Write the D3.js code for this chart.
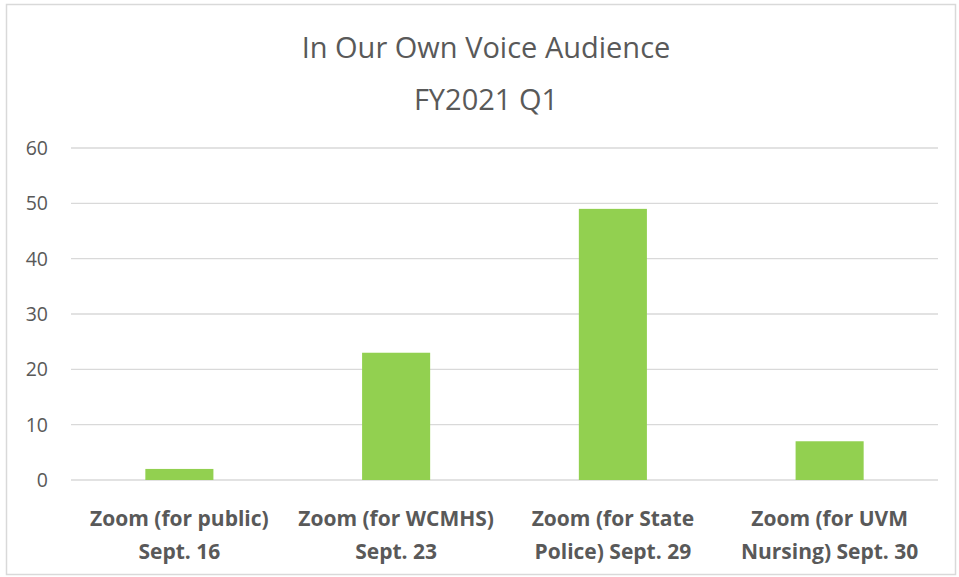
<!DOCTYPE html>
<html>
<head>
<meta charset="utf-8">
<script src="https://cdn.jsdelivr.net/npm/d3@7"></script>
<style>
  html, body { margin: 0; padding: 0; background: #fff; }
  svg { display: block; font-family: "Open Sans", "Noto Sans", sans-serif; }
</style>
</head>
<body>
<div id="chart"></div>
<script>
// Data
const titleLines = ['In Our Own Voice Audience', 'FY2021 Q1'];
const categories = [
    ['Zoom (for public)', 'Sept. 16'],
    ['Zoom (for WCMHS)', 'Sept. 23'],
    ['Zoom (for State', 'Police) Sept. 29'],
    ['Zoom (for UVM', 'Nursing) Sept. 30']
];
const audience = [2, 23, 49, 7];
const yTicks = [0, 10, 20, 30, 40, 50, 60];

const width = 959;
const height = 577;
const margin = { top: 148, right: 21, bottom: 97, left: 71 };

const svg = d3.select('#chart').append('svg')
    .attr('width', width)
    .attr('height', height);

// Chart border
svg.append('rect')
    .attr('x', 6.5)
    .attr('y', 4.5)
    .attr('width', width - 10)
    .attr('height', height - 7)
    .attr('fill', '#fff')
    .attr('stroke', '#d9d9d9')
    .attr('stroke-width', 1.5);

const x = d3.scaleBand()
    .domain(categories.map((d, i) => i))
    .range([margin.left, width - margin.right])
    .paddingInner(0.686)
    .paddingOuter(0.343);

const y = d3.scaleLinear()
    .domain([0, 60])
    .range([height - margin.bottom, margin.top]);

// Gridlines
svg.append('g')
    .selectAll('line')
    .data(yTicks)
    .join('line')
    .attr('x1', margin.left)
    .attr('x2', width - margin.right)
    .attr('y1', d => y(d))
    .attr('y2', d => y(d))
    .attr('stroke', '#d9d9d9')
    .attr('stroke-width', 1.3);

// Y labels
svg.append('g')
    .selectAll('text')
    .data(yTicks)
    .join('text')
    .attr('x', 48)
    .attr('y', d => y(d))
    .attr('dy', '0.36em')
    .attr('text-anchor', 'end')
    .style('font-size', '19.5px')
    .style('fill', '#595959')
    .text(d => d);

// Bars
svg.append('g')
    .selectAll('rect')
    .data(audience)
    .join('rect')
    .attr('x', (d, i) => x(i))
    .attr('y', d => y(d))
    .attr('width', x.bandwidth())
    .attr('height', d => y(0) - y(d))
    .attr('fill', '#92d050');

// Category labels
const catLabels = svg.append('g')
    .selectAll('text')
    .data(categories)
    .join('text')
    .attr('x', (d, i) => x(i) + x.bandwidth() / 2)
    .attr('y', 526)
    .attr('text-anchor', 'middle')
    .style('font-size', '21px')
    .style('font-weight', 'bold')
    .style('fill', '#595959');

catLabels.selectAll('tspan')
    .data(d => d)
    .join('tspan')
    .attr('x', function () { return d3.select(this.parentNode).attr('x'); })
    .attr('dy', (d, i) => i === 0 ? 0 : 33)
    .text(d => d);

// Title
svg.append('g')
    .selectAll('text')
    .data(titleLines)
    .join('text')
    .attr('x', 486)
    .attr('y', (d, i) => 58 + i * 52)
    .attr('text-anchor', 'middle')
    .style('font-size', '29px')
    .style('fill', '#595959')
    .text(d => d);
</script>
</body>
</html>
